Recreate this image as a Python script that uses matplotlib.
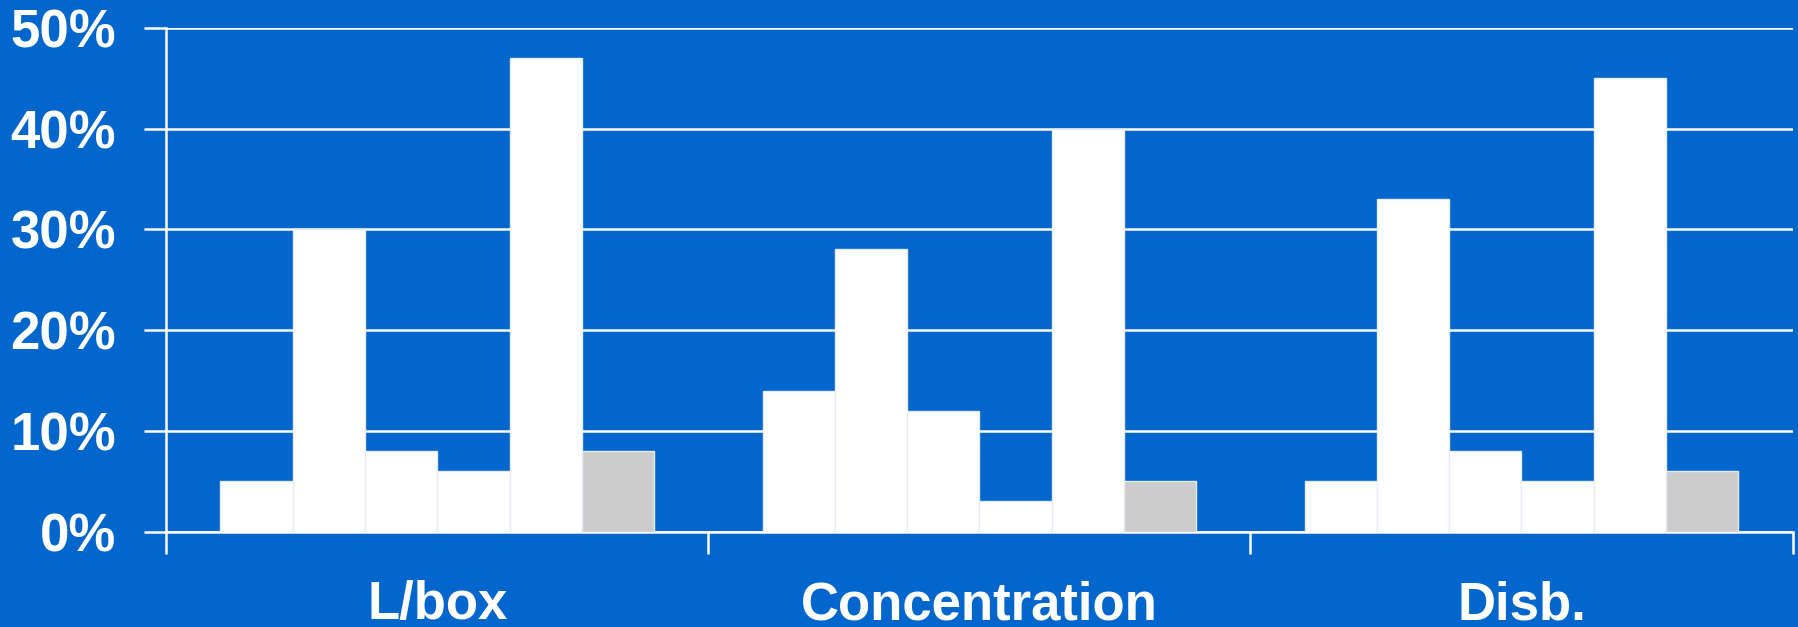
import matplotlib
matplotlib.use("Agg")
import matplotlib.pyplot as plt
import numpy as np
from matplotlib.ticker import FixedLocator, PercentFormatter

# Categories and series values (share, in %)
categories = ["L/box", "Concentration", "Disb."]
series_1 = [5, 14, 5]
series_2 = [30, 28, 33]
series_3 = [8, 12, 8]
series_4 = [6, 3, 5]
series_5 = [47, 40, 45]
series_6 = [8, 5, 6]
y_ticks = [0, 10, 20, 30, 40, 50]

all_series = [series_1, series_2, series_3, series_4, series_5, series_6]
bar_colors = ["white", "white", "white", "white", "white", "#CCCCCC"]

BG = "#0366CC"
plt.rcParams["font.family"] = ["Liberation Sans", "DejaVu Sans"]

fig = plt.figure(figsize=(17.99, 6.27), dpi=100, facecolor=BG)
ax = fig.add_axes([0.0924, 0.1520, 0.9040, 0.8038], facecolor=BG)

x = np.arange(len(categories))
n = len(all_series)
group_w = 0.8
bw = group_w / n
for i, (vals, col) in enumerate(zip(all_series, bar_colors)):
    offs = -group_w / 2 + bw * (i + 0.5)
    ax.bar(x + offs, vals, width=bw, color=col, edgecolor="#E6ECF5",
           linewidth=1.0, zorder=3)

ax.set_xlim(-0.5, len(categories) - 0.5)
ax.set_ylim(0, 50)

# y axis: percent ticks with white gridlines
ax.set_yticks(y_ticks)
ax.yaxis.set_major_formatter(PercentFormatter(decimals=0))
ax.grid(axis="y", color="white", linewidth=1.8, zorder=1)
ax.tick_params(axis="y", which="major", length=16, width=1.8, color="white",
               labelcolor="white", labelsize=38, pad=20)
for lab in ax.get_yticklabels():
    lab.set_fontweight("bold")

# x axis: ticks at group boundaries, labels at group centres
ax.xaxis.set_major_locator(FixedLocator(np.arange(-0.5, len(categories), 1.0)))
ax.xaxis.set_minor_locator(FixedLocator(x))
ax.set_xticklabels([""] * (len(categories) + 1))
ax.set_xticklabels(categories, minor=True)
ax.tick_params(axis="x", which="major", length=16, width=1.8, color="white")
ax.tick_params(axis="x", which="minor", length=0, labelcolor="white",
               labelsize=38, pad=35)
for lab in ax.get_xticklabels(minor=True):
    lab.set_fontweight("bold")

for side in ["top", "right"]:
    ax.spines[side].set_visible(False)
ax.spines["left"].set_color("white")
ax.spines["left"].set_linewidth(1.8)
ax.spines["bottom"].set_color("white")
ax.spines["bottom"].set_linewidth(1.8)
ax.set_axisbelow(True)

fig.savefig("out.png", dpi=100, facecolor=BG)
